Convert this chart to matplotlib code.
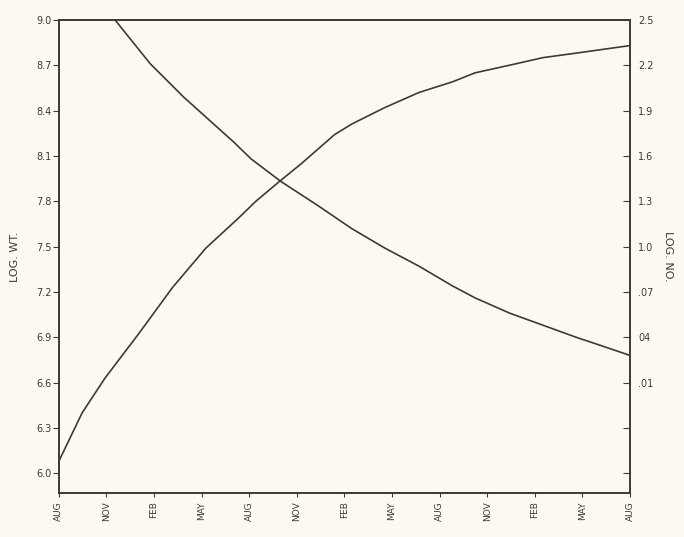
import numpy as np
import matplotlib.pyplot as plt

# quarters since first AUG
months = ["AUG", "NOV", "FEB", "MAY", "AUG", "NOV", "FEB", "MAY",
          "AUG", "NOV", "FEB", "MAY", "AUG"]

# log weight (left axis), rising curve
wt_x = [0, 0.49, 0.97, 1.67, 2.39, 3.09, 3.78, 4.14, 4.67, 5.10, 5.79,
        6.15, 6.85, 7.57, 8.27, 8.75, 9.47, 10.17, 10.87, 12.0]
wt_y = [6.08, 6.40, 6.63, 6.92, 7.23, 7.49, 7.69, 7.80, 7.94, 8.05, 8.24,
        8.31, 8.42, 8.52, 8.59, 8.65, 8.70, 8.75, 8.78, 8.83]

# log number (right axis), falling curve
no_x = [1.18, 1.92, 2.62, 3.68, 4.04, 4.67, 5.45, 6.15, 6.85, 7.57,
        8.27, 8.75, 9.47, 10.17, 10.87, 11.44, 12.0]
no_y = [2.50, 2.21, 1.99, 1.69, 1.58, 1.43, 1.27, 1.12, 0.99, 0.87,
        0.74, 0.66, 0.56, 0.48, 0.40, 0.34, 0.28]

left_ticks = [6.0, 6.3, 6.6, 6.9, 7.2, 7.5, 7.8, 8.1, 8.4, 8.7, 9.0]
left_labels = ["6.0", "6.3", "6.6", "6.9", "7.2", "7.5", "7.8", "8.1", "8.4", "8.7", "9.0"]
right_ticks = [2.5, 2.2, 1.9, 1.6, 1.3, 1.0, 0.7, 0.4, 0.1, -0.2, -0.5]
right_labels = ["2.5", "2.2", "1.9", "1.6", "1.3", "1.0", ".07", "04", ".01", "", ""]

bg = "#fcfaf0"
ink = "#3a3a3a"

fig = plt.figure(figsize=(6.84, 5.37), dpi=100, facecolor=bg)
ax = fig.add_axes([0.086, 0.082, 0.835, 0.881], facecolor=bg)
ax2 = ax.twinx()

ax.plot(wt_x, wt_y, color=ink, lw=1.2)
ax2.plot(no_x, no_y, color=ink, lw=1.2)

ax.set_xlim(0, 12)
ax.set_ylim(5.87, 9.0)
ax2.set_ylim(-0.63, 2.5)

ax.set_xticks(range(len(months)))
ax.set_xticklabels(months, rotation=90, fontsize=6.5, color=ink)
ax.set_yticks(left_ticks)
ax.set_yticklabels(left_labels, fontsize=7, color=ink)
ax2.set_yticks(right_ticks)
ax2.set_yticklabels(right_labels, fontsize=7, color=ink)

ax.tick_params(axis="x", direction="out", length=3, color=ink, pad=3)
ax.tick_params(axis="y", direction="out", length=4, color=ink, pad=1)
ax2.tick_params(axis="y", direction="in", length=5, color=ink, pad=6)

for a in (ax, ax2):
    for s in a.spines.values():
        s.set_color(ink)
        s.set_linewidth(1.2)

ax.set_ylabel("LOG. WT.", fontsize=8, color=ink, labelpad=12)
ax2.set_ylabel("LOG. NO.", fontsize=8, color=ink, rotation=270, labelpad=14)

fig.savefig("out.png", dpi=100, facecolor=bg)
